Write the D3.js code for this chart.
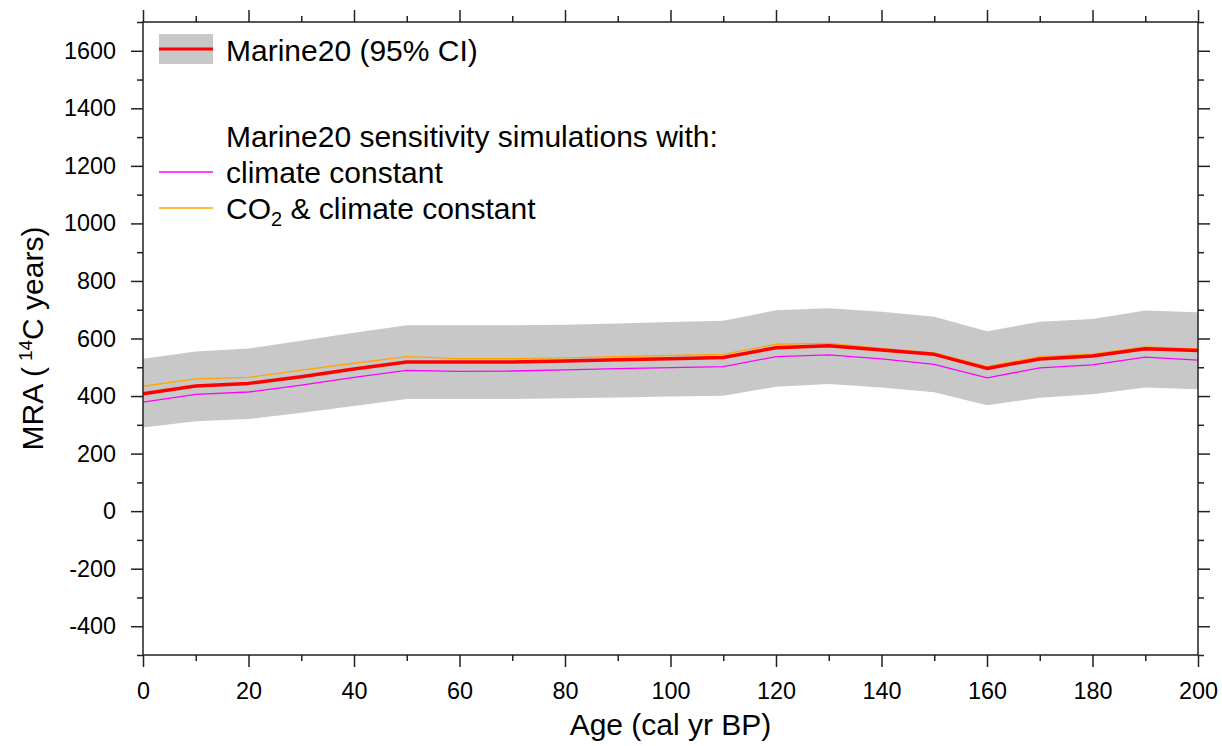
<!DOCTYPE html>
<html>
<head>
<meta charset="utf-8">
<script src="https://cdn.jsdelivr.net/npm/d3@7"></script>
<style>
  body { margin: 0; background: #fff; }
  svg { display: block; font-family: "Liberation Sans", Arial, Helvetica, sans-serif; }
  .axis path.domain { display: none; }
  .axis line { stroke: #222; stroke-width: 1.5; }
  .axis text { font-size: 23.4px; fill: #000; font-family: "Liberation Sans", Arial, sans-serif; }
</style>
</head>
<body>
<svg id="chart" width="1222" height="746"></svg>
<script>
// calendar age (cal yr BP)
const ages = [0, 10, 20, 30, 40, 50, 60, 70, 80, 90, 100, 110, 120, 130, 140, 150, 160, 170, 180, 190, 200]
// Marine20 MRA with 95% CI
const marine20 = [408, 435, 444, 467, 494, 518, 518, 518, 522, 526, 530, 534, 568, 575, 560, 545, 496, 529, 539, 564, 558]
const upper95 = [530, 555, 565, 592, 620, 646, 646, 646, 648, 652, 657, 662, 698, 705, 693, 676, 625, 658, 668, 697, 691]
const lower95 = [291, 312, 320, 342, 365, 390, 390, 390, 392, 395, 398, 401, 432, 442, 430, 413, 368, 394, 406, 430, 424]
// sensitivity simulations
const climateConst = [379, 406, 414, 438, 465, 489, 486, 487, 491, 495, 499, 502, 537, 543, 529, 510, 463, 498, 508, 535, 525]
const co2ClimateConst = [434, 460, 465, 490, 514, 537, 530, 530, 533, 537, 541, 545, 580, 583, 566, 550, 502, 537, 546, 571, 564]

const xMajor = d3.range(0, 201, 20)
const xMinor = d3.range(10, 200, 20)
const yMajor = d3.range(-400, 1601, 200)
const yMinor = d3.range(-500, 1701, 200)

const MARGINS = { top: 22, right: 24, bottom: 91, left: 143 }
const WIDTH = 1222
const HEIGHT = 746
const innerW = WIDTH - MARGINS.left - MARGINS.right
const innerH = HEIGHT - MARGINS.top - MARGINS.bottom

const svg = d3.select('#chart')
const g = svg.append('g').attr('transform', `translate(${MARGINS.left},${MARGINS.top})`)

const xScale = d3.scaleLinear().domain([0, 200]).range([0, innerW])
const yScale = d3.scaleLinear().domain([-500, 1700]).range([innerH, 0])

const rows = ages.map((a, i) => ({
  age: a,
  mid: marine20[i],
  hi: upper95[i],
  lo: lower95[i],
  clim: climateConst[i],
  co2: co2ClimateConst[i]
}))

// confidence band
const area = d3.area()
  .x(d => xScale(d.age))
  .y0(d => yScale(d.lo))
  .y1(d => yScale(d.hi))

g.append('path')
  .attr('d', area(rows))
  .attr('fill', '#c8c8c8')

const lineOf = key => d3.line()
  .x(d => xScale(d.age))
  .y(d => yScale(d[key]))

g.append('path')
  .attr('d', lineOf('clim')(rows))
  .attr('fill', 'none')
  .attr('stroke', '#ff00ff')
  .attr('stroke-width', 1.3)

g.append('path')
  .attr('d', lineOf('co2')(rows))
  .attr('fill', 'none')
  .attr('stroke', '#ffa500')
  .attr('stroke-width', 1.3)

g.append('path')
  .attr('d', lineOf('mid')(rows))
  .attr('fill', 'none')
  .attr('stroke', '#ff0000')
  .attr('stroke-width', 3.5)
  .attr('stroke-linejoin', 'round')

// axes: major + minor ticks on all four sides, pointing outward
const addAxis = (axisFn, scale, major, minor, transform, labels) => {
  g.append('g')
    .attr('class', 'axis')
    .attr('transform', transform)
    .call(axisFn(scale).tickValues(minor).tickSize(6).tickSizeOuter(0).tickFormat(''))
  g.append('g')
    .attr('class', 'axis')
    .attr('transform', transform)
    .call(axisFn(scale).tickValues(major).tickSize(12).tickSizeOuter(0).tickPadding(15)
      .tickFormat(labels ? d => String(d) : ''))
}

addAxis(d3.axisBottom, xScale, xMajor, xMinor, `translate(0,${innerH})`, true)
addAxis(d3.axisTop, xScale, xMajor, xMinor, 'translate(0,0)', false)
addAxis(d3.axisLeft, yScale, yMajor, yMinor, 'translate(0,0)', true)
addAxis(d3.axisRight, yScale, yMajor, yMinor, `translate(${innerW},0)`, false)

// frame
g.append('rect')
  .attr('width', innerW)
  .attr('height', innerH)
  .attr('fill', 'none')
  .attr('stroke', '#222')
  .attr('stroke-width', 1.5)

// axis titles
svg.append('text')
  .attr('x', MARGINS.left + innerW / 2)
  .attr('y', 735)
  .attr('text-anchor', 'middle')
  .attr('font-size', 30)
  .text('Age (cal yr BP)')

const yTitle = svg.append('text')
  .attr('transform', `translate(43,${MARGINS.top + innerH / 2}) rotate(-90)`)
  .attr('text-anchor', 'middle')
  .attr('font-size', 30)
yTitle.append('tspan').text('MRA (')
yTitle.append('tspan').attr('dx', 6).attr('dy', -11).attr('font-size', 19).text('14')
yTitle.append('tspan').attr('dy', 11).text('C years)')

// legend
const legend = svg.append('g').attr('font-size', 30)

legend.append('rect')
  .attr('x', 159).attr('y', 34)
  .attr('width', 54).attr('height', 30)
  .attr('fill', '#c8c8c8')
legend.append('line')
  .attr('x1', 159).attr('x2', 213).attr('y1', 49).attr('y2', 49)
  .attr('stroke', '#ff0000').attr('stroke-width', 3)
legend.append('text').attr('x', 226).attr('y', 61).text('Marine20 (95% CI)')

legend.append('text').attr('x', 226).attr('y', 147).text('Marine20 sensitivity simulations with:')

legend.append('line')
  .attr('x1', 159).attr('x2', 213).attr('y1', 172).attr('y2', 172)
  .attr('stroke', '#ff00ff').attr('stroke-width', 1.3)
legend.append('text').attr('x', 226).attr('y', 183).text('climate constant')

legend.append('line')
  .attr('x1', 159).attr('x2', 213).attr('y1', 208).attr('y2', 208)
  .attr('stroke', '#ffa500').attr('stroke-width', 1.3)
const co2Label = legend.append('text').attr('x', 226).attr('y', 219)
co2Label.append('tspan').text('CO')
co2Label.append('tspan').attr('dy', 7).attr('font-size', 20).text('2')
co2Label.append('tspan').attr('dy', -7).text(' & climate constant')
</script>
</body>
</html>
